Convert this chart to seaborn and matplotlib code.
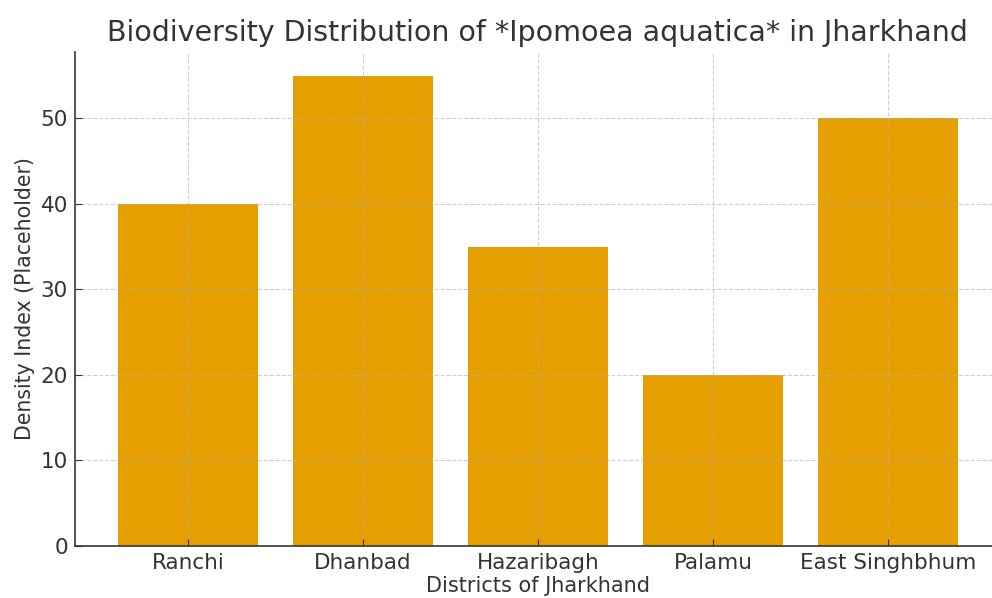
import seaborn as sns
import matplotlib.pyplot as plt
import pandas as pd

districts = ['Ranchi', 'Dhanbad', 'Hazaribagh', 'Palamu', 'East Singhbhum']
density = [40, 55, 35, 20, 50]

df = pd.DataFrame({'district': districts, 'density': density})

sns.set_theme(style='white')
plt.rcParams['font.family'] = ['DejaVu Sans']
plt.rcParams['text.color'] = '#333333'
plt.rcParams['axes.labelcolor'] = '#333333'

fig = plt.figure(figsize=(9.92, 5.98), dpi=100)
ax = fig.add_axes([75 / 992, 52 / 598, 925 / 992, 494 / 598])

sns.barplot(data=df, x='district', y='density', color='#E69F00', saturation=1,
            width=0.8, linewidth=0, ax=ax)

ax.set_xlim(-0.646, 4.64)
ax.set_ylim(0, 57.75)
ax.set_axisbelow(False)
ax.grid(True, linestyle='--', color='#b0b0b0', alpha=0.6, linewidth=0.8)

ax.set_title('Biodiversity Distribution of *Ipomoea aquatica* in Jharkhand',
             fontsize=20.5, color='#333333', pad=8)
ax.set_xlabel('Districts of Jharkhand', fontsize=15, labelpad=2)
ax.set_ylabel('Density Index (Placeholder)', fontsize=14.8, labelpad=4)
ax.tick_params(axis='both', labelsize=15.5, direction='in', length=5, width=0.8,
               colors='#333333', bottom=True, left=True, pad=5)

for side in ['top', 'right']:
    ax.spines[side].set_visible(False)
for side in ['left', 'bottom']:
    ax.spines[side].set_color('#333333')
    ax.spines[side].set_linewidth(1.2)

fig.savefig('out.png', dpi=100)
